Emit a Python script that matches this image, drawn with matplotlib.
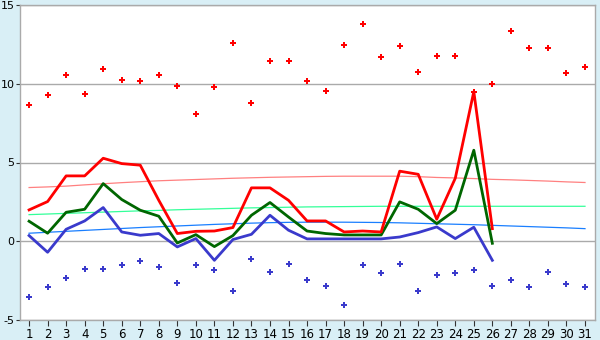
import matplotlib
matplotlib.use('Agg')
import matplotlib.pyplot as plt

plt.rcParams['axes.unicode_minus'] = False

days = list(range(1, 32))
days_obs = list(range(1, 27))

# extreme max / min per day (markers)
rec_max = [8.62, 9.31, 10.58, 9.38, 10.96, 10.26, 10.2, 10.58, 9.88, 8.11,
           9.82, 12.61, 8.8, 11.47, 11.47, 10.2, 9.57, 12.49, 13.82, 11.72,
           12.42, 10.77, 11.79, 11.79, 9.5, 10.01, 13.38, 12.3, 12.3, 10.71, 11.09]
rec_min = [-3.51, -2.88, -2.31, -1.74, -1.74, -1.48, -1.23, -1.61, -2.62, -1.48,
           -1.8, -3.13, -1.1, -1.93, -1.42, -2.43, -2.81, -4.02, -1.48, -1.99,
           -1.42, -3.13, -2.12, -1.99, -1.8, -2.81, -2.43, -2.88, -1.93, -2.69, -2.88]

# observed values
t_max = [1.99, 2.52, 4.15, 4.15, 5.27, 4.93, 4.83, 2.6, 0.49, 0.63,
         0.65, 0.87, 3.39, 3.39, 2.6, 1.29, 1.29, 0.59, 0.65, 0.59,
         4.45, 4.25, 1.4, 4.0, 9.5, 0.8]
t_mean = [1.27, 0.51, 1.84, 2.03, 3.66, 2.65, 1.97, 1.59, -0.11, 0.42,
          -0.34, 0.36, 1.65, 2.46, 1.54, 0.65, 0.49, 0.4, 0.4, 0.4,
          2.5, 2.03, 1.12, 1.97, 5.78, -0.13]
t_min = [0.36, -0.7, 0.76, 1.29, 2.14, 0.59, 0.38, 0.49, -0.36, 0.17,
         -1.21, 0.11, 0.44, 1.65, 0.7, 0.15, 0.15, 0.15, 0.15, 0.15,
         0.27, 0.55, 0.91, 0.17, 0.89, -1.21]

# normals
norm_max = [3.41, 3.45, 3.5, 3.58, 3.65, 3.72, 3.78, 3.84, 3.88, 3.92,
            3.96, 4.0, 4.03, 4.06, 4.08, 4.1, 4.12, 4.13, 4.13, 4.13,
            4.13, 4.1, 4.05, 4.02, 3.98, 3.93, 3.9, 3.86, 3.82, 3.77, 3.73]
norm_mean = [1.69, 1.73, 1.77, 1.81, 1.85, 1.89, 1.93, 1.96, 2.0, 2.03,
             2.06, 2.09, 2.12, 2.14, 2.16, 2.18, 2.19, 2.2, 2.21, 2.22,
             2.22, 2.22, 2.22, 2.22, 2.22, 2.22, 2.22, 2.22, 2.22, 2.22, 2.22]
norm_min = [0.51, 0.57, 0.63, 0.69, 0.75, 0.81, 0.87, 0.92, 0.97, 1.02,
            1.07, 1.11, 1.15, 1.18, 1.2, 1.21, 1.21, 1.21, 1.2, 1.19,
            1.17, 1.14, 1.11, 1.08, 1.05, 1.01, 0.97, 0.93, 0.89, 0.85, 0.8]

y_ticks = [-5, 0, 5, 10, 15]

fig = plt.figure(figsize=(6, 3.4), dpi=100)
fig.patch.set_facecolor('#d9eff6')
ax = fig.add_axes([20 / 600, 1 - 320 / 340, 575 / 600, 315 / 340])
ax.set_facecolor('white')

for yv in y_ticks:
    ax.axhline(yv, color='#aaaaaa', lw=1, zorder=1)

ax.plot(days, norm_max, color='#ff8080', lw=0.9, zorder=2)
ax.plot(days, norm_mean, color='#33ff99', lw=0.9, zorder=2)
ax.plot(days, norm_min, color='#1a7fff', lw=0.9, zorder=2)

ax.plot(days_obs, t_min, color='#3a3acc', lw=2, zorder=3)
ax.plot(days_obs, t_mean, color='#006600', lw=2, zorder=3)
ax.plot(days_obs, t_max, color='#ff0000', lw=2, zorder=3)

ax.plot(days, rec_max, ls='none', marker='P', ms=4.5, color='#ff0000', mew=0, zorder=4)
ax.plot(days, rec_min, ls='none', marker='P', ms=4.5, color='#3a3acc', mew=0, zorder=4)

ax.set_xlim(0.51, 31.54)
ax.set_ylim(-5, 15)
ax.set_xticks(days)
ax.set_yticks(y_ticks)
ax.tick_params(axis='x', length=4, color='#333333', labelsize=8.5, pad=2)
ax.tick_params(axis='y', length=3, color='#333333', labelsize=8, pad=1)

for side in ['left', 'bottom', 'right', 'top']:
    ax.spines[side].set_color('#aaaaaa')
    ax.spines[side].set_linewidth(1)

fig.savefig('out.png', dpi=100, facecolor=fig.get_facecolor())
